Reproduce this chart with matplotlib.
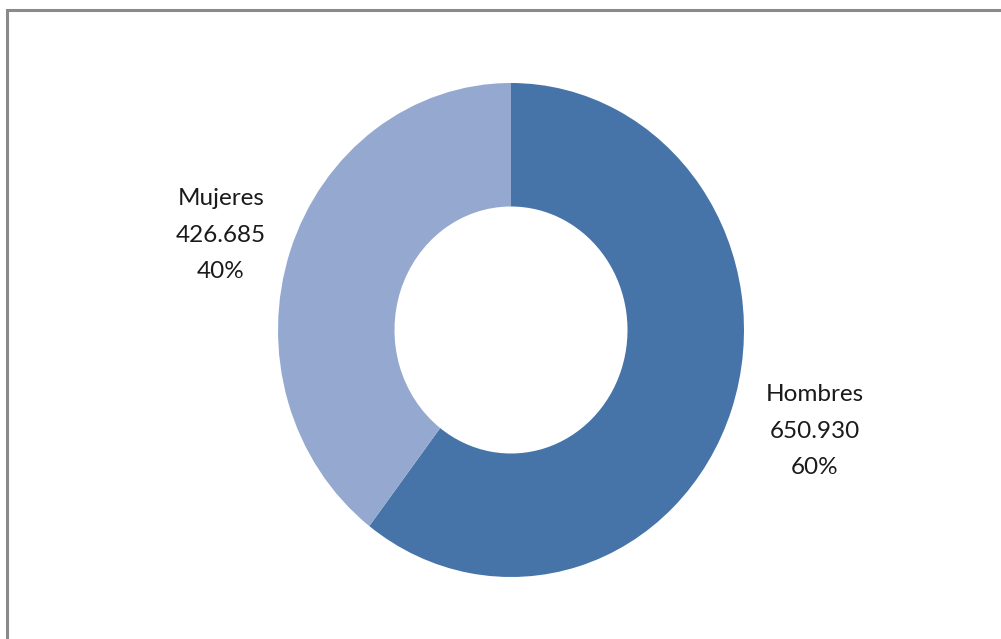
import matplotlib
matplotlib.use("Agg")
import matplotlib.pyplot as plt
from matplotlib.patches import Rectangle

categories = ["Hombres", "Mujeres"]
values = [650930, 426685]
value_labels = ["650.930", "426.685"]
colors = ["#4674A8", "#95A9D0"]

W, H = 1001, 639
fig = plt.figure(figsize=(W / 100, H / 100), dpi=100)
ax = fig.add_axes([0, 0, 1, 1])

cx, cy = 511, 330           # pixel centre (from top)
rx, ry = 233, 247           # pixel radii
ax.pie(values, colors=colors, startangle=90, counterclock=False,
       wedgeprops=dict(width=0.5, edgecolor="none"))
ax.set_aspect("auto")
ax.set_xlim(-cx / rx, (W - cx) / rx)
ax.set_ylim(-(H - cy) / ry, cy / ry)
ax.axis("off")

total = sum(values)
pcts = [round(v / total * 100) for v in values]

def px(x, y):
    return ((x - cx) / rx, (cy - y) / ry)

label_pos = {"Mujeres": (221, 235), "Hombres": (815, 431)}
for cat, vl, p in zip(categories, value_labels, pcts):
    x, y = px(*label_pos[cat])
    ax.text(x, y, f"{cat}\n{vl}\n{p}%", ha="center", va="center",
            fontsize=17.5, family=["Lato", "DejaVu Sans"], color="#1a1a1a",
            linespacing=1.92)

fig.patches.append(Rectangle((7 / W, -0.1), 1.2, (H - 10) / H + 0.1,
                             transform=fig.transFigure, fill=False,
                             edgecolor="#8a8a8a", linewidth=2.2))

fig.savefig("out.png", dpi=100, facecolor="white")
